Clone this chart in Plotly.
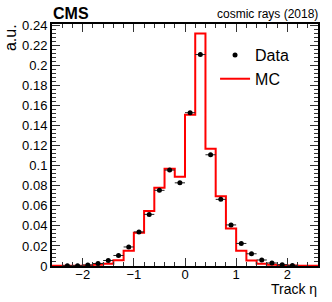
import plotly.graph_objects as go

# Bin edges (track eta), width 0.2
bin_edges = [round(-2.6 + 0.2 * i, 1) for i in range(27)]
mc_values = [0.0002, 0.0002, 0.0003, 0.0006, 0.0012, 0.0022, 0.0058, 0.0153,
             0.0333, 0.055, 0.078, 0.097, 0.089, 0.151, 0.232, 0.117,
             0.0695, 0.0375, 0.0153, 0.0055, 0.0022, 0.0012, 0.0007, 0.0004,
             0.0002, 0.0002]

data_eta = [-2.3, -2.1, -1.9, -1.7, -1.5, -1.3, -1.1, -0.9, -0.7, -0.5, -0.3, -0.1,
            0.1, 0.3, 0.5, 0.7, 0.9, 1.1, 1.3, 1.5, 1.7, 1.9, 2.1]
data_values = [0.0002, 0.0003, 0.001, 0.0025, 0.0055, 0.0105, 0.019, 0.034, 0.0515,
               0.0755, 0.0957, 0.083, 0.153, 0.211, 0.111, 0.0665, 0.041, 0.0225,
               0.0122, 0.006, 0.003, 0.0013, 0.0006]
data_xerr = [0.1] * len(data_eta)

y_ticks = [0, 0.02, 0.04, 0.06, 0.08, 0.1, 0.12, 0.14, 0.16, 0.18, 0.2, 0.22, 0.24]
y_tick_labels = ["0", "0.02", "0.04", "0.06", "0.08", "0.1", "0.12", "0.14",
                 "0.16", "0.18", "0.2", "0.22", "0.24"]

FONT = "Liberation Sans, Arial, Helvetica, sans-serif"

fig = go.Figure()

fig.add_trace(go.Scatter(
    x=bin_edges, y=mc_values + [mc_values[-1]],
    mode="lines", line=dict(color="#ff0000", width=2, shape="hv"),
    name="MC", legendrank=2,
))

fig.add_trace(go.Scatter(
    x=data_eta, y=data_values, mode="markers",
    marker=dict(color="black", size=5),
    error_x=dict(type="data", array=data_xerr, color="#222222", thickness=1, width=0),
    name="Data", legendrank=1,
))

axis_common = dict(
    showline=True, linecolor="black", linewidth=2, mirror="allticks",
    ticks="inside", ticklen=8, tickwidth=1, tickcolor="#333333",
    showgrid=False, zeroline=False,
    tickfont=dict(family=FONT, size=13, color="black"),
)

fig.update_xaxes(
    range=[-2.6, 2.6], tick0=0, dtick=1, ticklabelstandoff=-5,
    minor=dict(ticks="inside", ticklen=4, dtick=0.2, tick0=0, tickcolor="#333333", tickwidth=1),
    **axis_common,
)
fig.update_yaxes(
    range=[0, 0.2415], tickvals=y_ticks, ticktext=y_tick_labels,
    minor=dict(ticks="inside", ticklen=4, dtick=0.004, tick0=0, tickcolor="#333333", tickwidth=1),
    **axis_common,
)

fig.update_layout(
    width=332, height=302,
    margin=dict(l=52, r=14, t=24, b=36),
    plot_bgcolor="white", paper_bgcolor="white",
    font=dict(family=FONT, color="black"),
    showlegend=True,
    legend=dict(x=0.613, y=0.942, xanchor="left", yanchor="top",
                bgcolor="rgba(0,0,0,0)", borderwidth=0,
                font=dict(family=FONT, size=16, color="black"),
                itemwidth=30, tracegroupgap=0),
    annotations=[
        dict(text="<b>CMS</b>", x=-0.005, y=1.045, xref="paper", yref="paper",
             xanchor="left", yanchor="middle", showarrow=False,
             font=dict(family=FONT, size=16, color="black")),
        dict(text="cosmic rays (2018)", x=1.0075, y=1.041, xref="paper", yref="paper",
             xanchor="right", yanchor="middle", showarrow=False,
             font=dict(family=FONT, size=12, color="black")),
        dict(text="a.u.", x=-0.156, y=1.008, xref="paper", yref="paper",
             xanchor="center", yanchor="top", textangle=-90, showarrow=False,
             font=dict(family=FONT, size=16, color="black")),
        dict(text="Track η", x=1.005, y=-0.097, xref="paper", yref="paper",
             xanchor="right", yanchor="middle", showarrow=False,
             font=dict(family=FONT, size=14, color="black")),
    ],
)

fig.write_html("out.html", config={"displayModeBar": False},
               post_script="document.body.style.margin='0';")
